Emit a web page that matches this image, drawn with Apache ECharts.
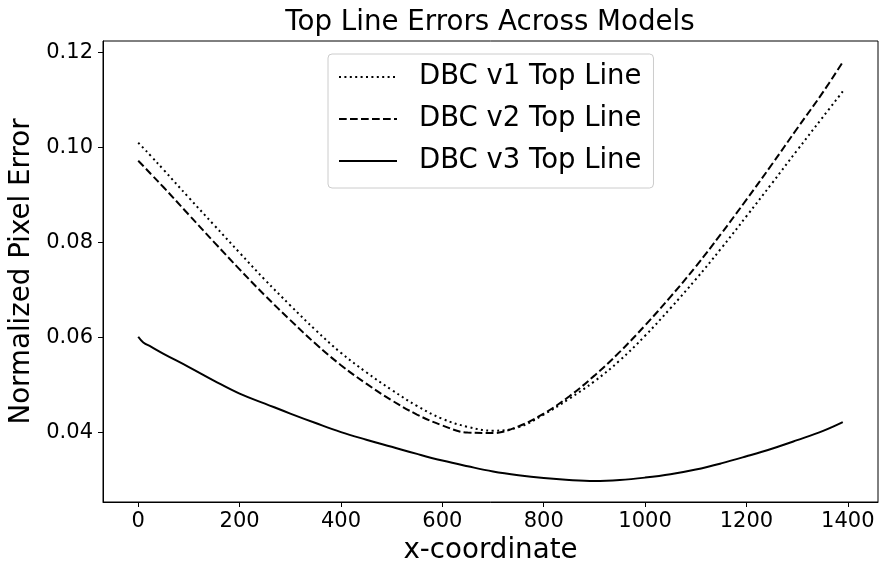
<!DOCTYPE html>
<html>
<head>
<meta charset="utf-8">
<script src="https://cdn.jsdelivr.net/npm/echarts@6/dist/echarts.min.js"></script>
<style>
  html, body { margin: 0; padding: 0; background: #fff; }
  #chart { width: 887px; height: 575px; }
</style>
</head>
<body>
<div id="chart"></div>
<script>
// x positions along the top line (pixels in the source image)
const xCoords = [0, 10, 25, 50, 100, 150, 200, 250, 300, 350, 400, 450, 500, 550, 600, 650,
                 700, 750, 800, 850, 900, 950, 1000, 1050, 1100, 1150, 1200, 1250, 1300, 1350, 1390];

// normalized pixel error per model
const v1Errors = [0.1010, 0.0999, 0.0982, 0.0953, 0.0894, 0.0836, 0.0778, 0.0721, 0.0667, 0.0615,
                  0.0567, 0.0526, 0.0489, 0.0455, 0.0428, 0.0411, 0.0403, 0.0410, 0.0437, 0.0470,
                  0.0507, 0.0551, 0.0603, 0.0661, 0.0722, 0.0787, 0.0855, 0.0924, 0.0994, 0.1063, 0.1118];
const v2Errors = [0.0972, 0.0961, 0.0944, 0.0916, 0.0858, 0.0800, 0.0743, 0.0688, 0.0636, 0.0586,
                  0.0541, 0.0502, 0.0467, 0.0437, 0.0414, 0.0399, 0.0398, 0.0412, 0.0439, 0.0475,
                  0.0519, 0.0569, 0.0625, 0.0685, 0.0749, 0.0818, 0.0890, 0.0964, 0.1040, 0.1115, 0.1180];
const v3Errors = [0.0601, 0.0589, 0.0580, 0.0565, 0.0537, 0.0508, 0.0481, 0.0460, 0.0439, 0.0419,
                  0.0400, 0.0384, 0.0369, 0.0354, 0.0340, 0.0328, 0.0317, 0.0309, 0.0303, 0.0299,
                  0.0297, 0.0299, 0.0304, 0.0311, 0.0321, 0.0334, 0.0349, 0.0365, 0.0383, 0.0402, 0.0421];

const seriesNames = ['DBC v1 Top Line', 'DBC v2 Top Line', 'DBC v3 Top Line'];
const xTicks = [0, 200, 400, 600, 800, 1000, 1200, 1400];
const yTicks = [0.04, 0.06, 0.08, 0.10, 0.12];

const FONT = 'DejaVu Sans';

const pairs = (ys) => xCoords.map((x, i) => [x, ys[i]]);

let chart = echarts.init(document.getElementById('chart'), null, { renderer: 'canvas' });

const lineDefaults = {
    type: 'line',
    symbol: 'none',
    smooth: 0.4,
    animation: false,
};

const axisBlack = { show: true, onZero: false, lineStyle: { color: '#000', width: 1 } };

const option = {
    backgroundColor: '#fff',
    title: {
        text: 'Top Line Errors Across Models',
        left: 490,
        top: 9,
        padding: 0,
        textAlign: 'center',
        textStyle: { fontFamily: FONT, fontSize: 27.7, fontWeight: 'normal', color: '#000' }
    },
    legend: {
        orient: 'vertical',
        left: 328,
        top: 54,
        padding: [8, 12, 12, 10],
        itemWidth: 58,
        itemHeight: 14,
        itemGap: 12,
        backgroundColor: 'rgba(255,255,255,0.8)',
        borderColor: '#cccccc',
        borderWidth: 1,
        borderRadius: 4,
        itemStyle: { opacity: 0 },
        textStyle: {
            fontFamily: FONT, fontSize: 27.5, color: '#000',
            lineHeight: 30, padding: [0, 0, 0, 17]
        },
        data: seriesNames
    },
    grid: {
        left: 103, right: 9, top: 41, bottom: 73,
        outerBoundsMode: 'none',
        containLabel: false,
        show: true,
        borderColor: '#000',
        borderWidth: 1,
        backgroundColor: 'transparent'
    },
    xAxis: {
        type: 'value',
        min: -69.5,
        max: 1459.5,
        name: 'x-coordinate',
        nameLocation: 'middle',
        nameGap: 34,
        nameTextStyle: { fontFamily: FONT, fontSize: 27.7, color: '#000' },
        axisLine: axisBlack,
        axisTick: { show: true, inside: false, length: 5, lineStyle: { color: '#000', width: 1 }, customValues: xTicks },
        axisLabel: {
            fontFamily: FONT, fontSize: 21, color: '#000', margin: 9,
            customValues: xTicks,
            formatter: (v) => String(v)
        },
        splitLine: { show: false }
    },
    yAxis: {
        type: 'value',
        min: 0.02526,
        max: 0.12244,
        name: 'Normalized Pixel Error',
        nameLocation: 'middle',
        nameRotate: 90,
        nameGap: 67,
        nameTextStyle: { fontFamily: FONT, fontSize: 27.7, color: '#000' },
        axisLine: axisBlack,
        axisTick: { show: true, inside: false, length: 5, lineStyle: { color: '#000', width: 1 }, customValues: yTicks },
        axisLabel: {
            fontFamily: FONT, fontSize: 21, color: '#000', margin: 10,
            customValues: yTicks,
            formatter: (v) => v.toFixed(2)
        },
        splitLine: { show: false }
    },
    series: [
        Object.assign({}, lineDefaults, {
            name: seriesNames[0],
            data: pairs(v1Errors),
            lineStyle: { color: '#000', width: 2, type: [2, 3.4], cap: 'butt' },
            itemStyle: { color: '#000' }
        }),
        Object.assign({}, lineDefaults, {
            name: seriesNames[1],
            data: pairs(v2Errors),
            lineStyle: { color: '#000', width: 2, type: [7.7, 3.3], cap: 'butt' },
            itemStyle: { color: '#000' }
        }),
        Object.assign({}, lineDefaults, {
            name: seriesNames[2],
            data: pairs(v3Errors),
            lineStyle: { color: '#000', width: 2, type: 'solid' },
            itemStyle: { color: '#000' }
        })
    ]
};

chart.setOption(option);
</script>
</body>
</html>
